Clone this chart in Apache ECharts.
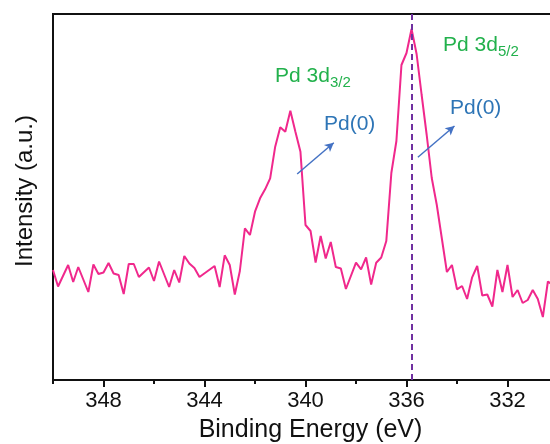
<!DOCTYPE html>
<html><head><meta charset="utf-8">
<script src="https://cdn.jsdelivr.net/npm/echarts@6/dist/echarts.min.js"></script>
<style>html,body{margin:0;padding:0;background:#fff}#c{width:550px;height:444px}</style>
</head><body><div id="c"></div>
<script>
// Binding energy (eV) and intensity (a.u.)
const energy = [350.0,349.8,349.4,349.2,349.0,348.6,348.4,348.2,348.0,347.8,347.6,347.4,347.2,347.0,346.8,346.6,346.2,346.0,345.8,345.4,345.2,345.0,344.8,344.6,344.4,344.2,343.6,343.4,343.2,343.0,342.8,342.6,342.4,342.2,342.0,341.8,341.6,341.4,341.2,341.0,340.8,340.6,340.4,340.2,340.0,339.8,339.6,339.4,339.2,339.0,338.8,338.6,338.4,338.0,337.8,337.6,337.4,337.2,337.0,336.8,336.6,336.4,336.2,336.0,335.8,335.6,335.4,335.2,335.0,334.8,334.4,334.2,334.0,333.8,333.6,333.4,333.2,333.0,332.8,332.6,332.4,332.2,332.0,331.8,331.6,331.4,331.2,331.0,330.8,330.6,330.4,330.2];
const intensity = [110,93.5,115,98,113,88,115.5,106,107.5,117,106.5,105,86,116,116,103,112.5,99,118.5,93,110,97.5,124,116.5,112,103,114,93,124.7,115,85.5,109,151.7,145,168.3,181.7,190.7,201.7,233.3,252.7,248.3,269.3,248.3,228.3,155,149,117.5,144,121.5,138,113,111.5,91,117.3,110.7,122.5,95.5,117.3,122.5,139,207,239,315,327,351,326,285,245,202,175,108,115,90.7,94,81,102.7,114,84.5,85.5,73.5,110,88,115,83,90,77,80,90,81,63,98.5,95];
const xTickLabels = [348,344,340,336,332];
const xMinorTicks = [350,346,342,338,334,330];
const peakPosition = 335.8;
const arrowStarts = [[340.33,206],[335.55,222.7]];
const arrowEnds = [[338.88,237.3],[334.10,254]];

const FONT = '"Liberation Sans", Arial, sans-serif';
const chart = echarts.init(document.getElementById('c'));
const lineData = energy.map((e,i)=>[e,intensity[i]]);

const markData = [
  { xAxis: peakPosition,
    lineStyle: { color: '#7030a0', type: [6,4], width: 2 } }
];
arrowStarts.forEach((s,i)=>{
  markData.push([
    { coord: s, symbol: 'none', lineStyle: { color: '#4472c4', type: 'solid', width: 1.5 } },
    { coord: arrowEnds[i], symbol: 'arrow', symbolSize: [7,9] }
  ]);
});

chart.setOption({
  backgroundColor: '#fff',
  animation: false,
  grid: { left: 53, top: 14, width: 505, height: 366, show: true,
          outerBoundsMode: 'none', containLabel: false,
          borderColor: '#111', borderWidth: 2, backgroundColor: 'transparent' },
  xAxis: [{
    type: 'value', inverse: true, min: 330, max: 350, interval: 2,
    position: 'bottom',
    axisLine: { show: true, lineStyle: { color: '#111', width: 2 } },
    axisTick: { show: true, inside: false, length: 7, customValues: xTickLabels,
                lineStyle: { color: '#111', width: 2 } },
    axisLabel: { show: true, customValues: xTickLabels, margin: 10,
                 fontSize: 22, fontFamily: FONT, color: '#111' },
    splitLine: { show: false },
    name: 'Binding Energy (eV)', nameLocation: 'middle', nameGap: 38,
    nameTextStyle: { fontSize: 25, fontFamily: FONT, color: '#111', padding: [0,0,0,10] }
  }, {
    type: 'value', inverse: true, min: 330, max: 350, interval: 2,
    position: 'bottom',
    axisLine: { show: false },
    axisTick: { show: true, inside: false, length: 4, customValues: xMinorTicks,
                lineStyle: { color: '#111', width: 2 } },
    axisLabel: { show: false },
    splitLine: { show: false }
  }],
  yAxis: {
    type: 'value', min: 0, max: 366,
    axisLine: { show: true, lineStyle: { color: '#111', width: 2 } },
    axisTick: { show: false }, axisLabel: { show: false }, splitLine: { show: false },
    name: 'Intensity (a.u.)', nameLocation: 'middle', nameGap: 16,
    nameTextStyle: { fontSize: 24, fontFamily: FONT, color: '#111', padding: [0,0,0,12] }
  },
  series: [{
    type: 'line', xAxisIndex: 0, data: lineData, showSymbol: false,
    lineStyle: { color: '#f0288c', width: 2 }, itemStyle: { color: '#f0288c' },
    markLine: { silent: true, animation: false, symbol: ['none','none'],
                label: { show: false }, data: markData }
  }],
  graphic: [
    { type: 'text', x: 275, y: 66, style: {
        text: '{a|Pd 3d}{b|3/2}', fontFamily: FONT,
        rich: { a: { fontSize: 21, fill: '#22b14c', fontFamily: FONT, verticalAlign: 'bottom', padding: [0,0,3,0] },
                b: { fontSize: 15, fill: '#22b14c', fontFamily: FONT, verticalAlign: 'bottom' } } } },
    { type: 'text', x: 443, y: 35, style: {
        text: '{a|Pd 3d}{b|5/2}', fontFamily: FONT,
        rich: { a: { fontSize: 21, fill: '#22b14c', fontFamily: FONT, verticalAlign: 'bottom', padding: [0,0,3,0] },
                b: { fontSize: 15, fill: '#22b14c', fontFamily: FONT, verticalAlign: 'bottom' } } } },
    { type: 'text', x: 324, y: 114, style: { text: 'Pd(0)', fontSize: 21, fontFamily: FONT, fill: '#2e75b6' } },
    { type: 'text', x: 450, y: 98, style: { text: 'Pd(0)', fontSize: 21, fontFamily: FONT, fill: '#2e75b6' } }
  ]
});
</script></body></html>
